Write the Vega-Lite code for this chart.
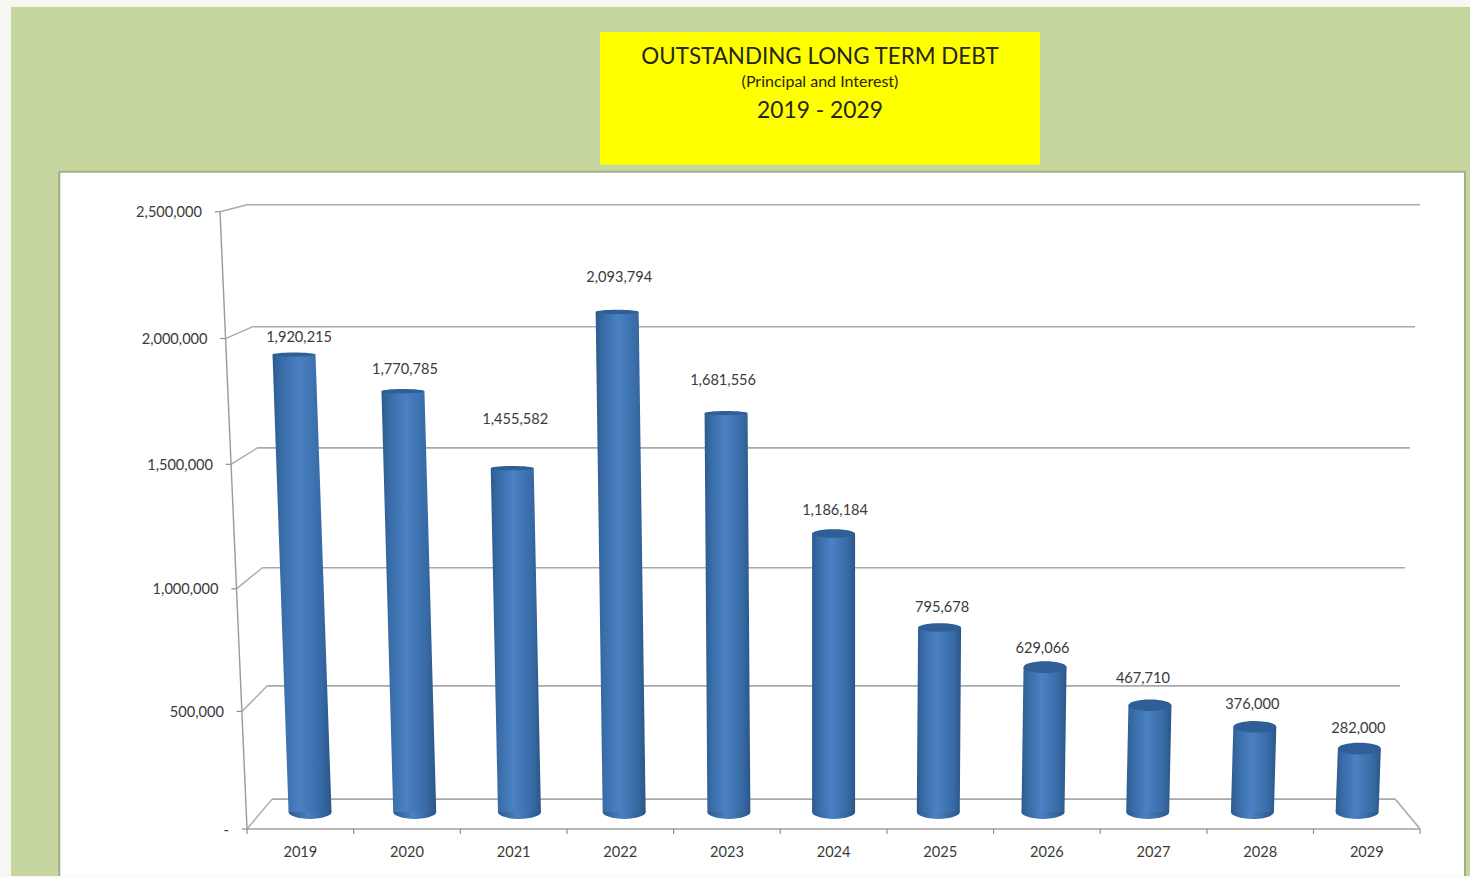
{
  "$schema": "https://vega.github.io/schema/vega-lite/v6.json",
  "width": 1470,
  "height": 877,
  "padding": 0,
  "autosize": {"type": "fit", "contains": "padding"},
  "background": "#f7f7f3",
  "config": {
    "view": {"stroke": null},
    "axis": {"disable": true},
    "text": {"font": "Lato", "color": "#3a3a3a"}
  },
  "datasets": {
    "debt": [
      {"year": 2019, "debt": 1920215},
      {"year": 2020, "debt": 1770785},
      {"year": 2021, "debt": 1455582},
      {"year": 2022, "debt": 2093794},
      {"year": 2023, "debt": 1681556},
      {"year": 2024, "debt": 1186184},
      {"year": 2025, "debt": 795678},
      {"year": 2026, "debt": 629066},
      {"year": 2027, "debt": 467710},
      {"year": 2028, "debt": 376000},
      {"year": 2029, "debt": 282000}
    ],
    "scaleTicks": [
      {"tick": 0},
      {"tick": 500000},
      {"tick": 1000000},
      {"tick": 1500000},
      {"tick": 2000000},
      {"tick": 2500000}
    ],
    "slots": [
      {"slot": 2018.5}, {"slot": 2019.5}, {"slot": 2020.5}, {"slot": 2021.5},
      {"slot": 2022.5}, {"slot": 2023.5}, {"slot": 2024.5}, {"slot": 2025.5},
      {"slot": 2026.5}, {"slot": 2027.5}, {"slot": 2028.5}, {"slot": 2029.5}
    ],
    "sheet": [{"part": "sheet"}]
  },
  "layer": [
    {
      "description": "Green worksheet area",
      "data": {"name": "sheet"},
      "mark": {"type": "rect", "fill": "#c5d69e"},
      "encoding": {
        "x": {"datum": 2016.145, "type": "quantitative", "scale": {"domain": [2016.039, 2030.078], "nice": false, "zero": false}},
        "x2": {"datum": 2030.078},
        "y": {"datum": 1.34783, "type": "quantitative", "scale": {"domain": [-0.10702, 1.35953], "nice": false, "zero": false}},
        "y2": {"datum": -0.10702}
      }
    },
    {
      "description": "White chart frame, running off the bottom of the view",
      "data": {"name": "sheet"},
      "mark": {"type": "rect", "fill": "#ffffff"},
      "encoding": {
        "x": {"datum": 2016.605},
        "x2": {"datum": 2030.03},
        "y": {"datum": 1.0719},
        "y2": {"datum": -0.10702}
      }
    },
    {
      "description": "Frame border, top",
      "data": {"name": "sheet"},
      "mark": {"type": "rule", "stroke": "#9fb085", "strokeWidth": 2},
      "encoding": {
        "x": {"datum": 2016.605},
        "x2": {"datum": 2030.03},
        "y": {"datum": 1.0719}
      }
    },
    {
      "description": "Frame border, left",
      "data": {"name": "sheet"},
      "mark": {"type": "rule", "stroke": "#9fb085", "strokeWidth": 2},
      "encoding": {
        "x": {"datum": 2016.605},
        "y": {"datum": 1.0719},
        "y2": {"datum": -0.10702}
      }
    },
    {
      "description": "Frame border, right",
      "data": {"name": "sheet"},
      "mark": {"type": "rule", "stroke": "#9fb085", "strokeWidth": 2},
      "encoding": {
        "x": {"datum": 2030.03},
        "y": {"datum": 1.0719},
        "y2": {"datum": -0.10702}
      }
    },
    {
      "description": "Yellow title block",
      "data": {"name": "sheet"},
      "mark": {"type": "rect", "fill": "#ffff00"},
      "encoding": {
        "x": {"datum": 2021.77},
        "x2": {"datum": 2025.97},
        "y": {"datum": 1.30602},
        "y2": {"datum": 1.08361}
      }
    },
    {
      "data": {"name": "sheet"},
      "mark": {"type": "text", "fontSize": 22.4, "align": "center", "baseline": "middle", "dy": 1, "color": "#26261a"},
      "encoding": {
        "x": {"datum": 2023.87},
        "y": {"datum": 1.2659},
        "text": {"value": "OUTSTANDING LONG TERM DEBT"}
      }
    },
    {
      "data": {"name": "sheet"},
      "mark": {"type": "text", "fontSize": 16, "align": "center", "baseline": "middle", "color": "#26261a"},
      "encoding": {
        "x": {"datum": 2023.87},
        "y": {"datum": 1.2224},
        "text": {"value": "(Principal and Interest)"}
      }
    },
    {
      "data": {"name": "sheet"},
      "mark": {"type": "text", "fontSize": 22.8, "align": "center", "baseline": "middle", "dy": 1, "color": "#26261a"},
      "encoding": {
        "x": {"datum": 2023.87},
        "y": {"datum": 1.1756},
        "text": {"value": "2019 - 2029"}
      }
    },
    {
      "description": "Gridlines along the back wall",
      "data": {"name": "scaleTicks"},
      "transform": [
        {"calculate": "pow(datum.tick / 2500000, 1.03)", "as": "t"},
        {"calculate": "0.02174 + 0.995 * datum.t", "as": "wallH"},
        {"calculate": "2024 - 5.363 * (1 + 0.0445 * datum.t)", "as": "wallL"},
        {"calculate": "2024 + 5.363 * (1 + 0.0445 * datum.t)", "as": "wallR"}
      ],
      "mark": {"type": "rule", "stroke": "#a9a9a9", "strokeWidth": 1.6},
      "encoding": {
        "x": {"field": "wallL", "type": "quantitative"},
        "x2": {"field": "wallR"},
        "y": {"field": "wallH", "type": "quantitative"}
      }
    },
    {
      "description": "Side wall connectors from the value axis to the back wall",
      "data": {"name": "scaleTicks"},
      "transform": [
        {"calculate": "pow(datum.tick / 2500000, 1.03)", "as": "t"},
        {"calculate": "0.02174 + 0.995 * datum.t", "as": "wallH"},
        {"calculate": "2024 - 5.363 * (1 + 0.0445 * datum.t)", "as": "wallL"},
        {"calculate": "-0.02843 + 1.0334 * datum.t", "as": "frontH"},
        {"calculate": "2024 - 5.602 * (1 + 0.046 * datum.t)", "as": "frontL"}
      ],
      "mark": {"type": "rule", "stroke": "#a9a9a9", "strokeWidth": 1.4},
      "encoding": {
        "x": {"field": "frontL", "type": "quantitative"},
        "x2": {"field": "wallL"},
        "y": {"field": "frontH", "type": "quantitative"},
        "y2": {"field": "wallH"}
      }
    },
    {
      "description": "Value axis tick stubs",
      "data": {"name": "scaleTicks"},
      "transform": [
        {"calculate": "pow(datum.tick / 2500000, 1.03)", "as": "t"},
        {"calculate": "-0.02843 + 1.0334 * datum.t", "as": "frontH"},
        {"calculate": "2024 - 5.602 * (1 + 0.046 * datum.t)", "as": "frontL"},
        {"calculate": "datum.frontL - 0.05", "as": "stub"}
      ],
      "mark": {"type": "rule", "stroke": "#8f8f8f", "strokeWidth": 1.2},
      "encoding": {
        "x": {"field": "stub", "type": "quantitative"},
        "x2": {"field": "frontL"},
        "y": {"field": "frontH", "type": "quantitative"}
      }
    },
    {
      "description": "Slanted value axis line",
      "data": {"name": "scaleTicks"},
      "transform": [
        {"filter": "datum.tick == 2500000"},
        {"calculate": "-0.02843 + 1.0334", "as": "frontH"},
        {"calculate": "2024 - 5.602 * 1.046", "as": "frontL"}
      ],
      "mark": {"type": "rule", "stroke": "#9a9a9a", "strokeWidth": 1.4},
      "encoding": {
        "x": {"field": "frontL", "type": "quantitative"},
        "x2": {"datum": 2018.398},
        "y": {"field": "frontH", "type": "quantitative"},
        "y2": {"datum": -0.02843}
      }
    },
    {
      "description": "Front edge of the floor",
      "data": {"name": "sheet"},
      "mark": {"type": "rule", "stroke": "#a0a0a0", "strokeWidth": 1.6},
      "encoding": {
        "x": {"datum": 2018.398},
        "x2": {"datum": 2029.602},
        "y": {"datum": -0.02843}
      }
    },
    {
      "description": "Right edge of the floor",
      "data": {"name": "sheet"},
      "mark": {"type": "rule", "stroke": "#a9a9a9", "strokeWidth": 1.6},
      "encoding": {
        "x": {"datum": 2029.363},
        "x2": {"datum": 2029.602},
        "y": {"datum": 0.02174},
        "y2": {"datum": -0.02843}
      }
    },
    {
      "description": "Category tick marks",
      "data": {"name": "slots"},
      "transform": [
        {"calculate": "2024 + (datum.slot - 2024) * 1.0185", "as": "frontX"}
      ],
      "mark": {"type": "rule", "stroke": "#8f8f8f", "strokeWidth": 1.2},
      "encoding": {
        "x": {"field": "frontX", "type": "quantitative"},
        "y": {"datum": -0.02843},
        "y2": {"datum": -0.0368}
      }
    },
    {
      "description": "Cylinder bases",
      "data": {"name": "debt"},
      "transform": [
        {"calculate": "datum.year", "as": "baseX"},
        {"calculate": "0", "as": "baseH"}
      ],
      "mark": {
        "type": "point",
        "filled": true,
        "opacity": 1,
        "shape": "M-1,0A1,0.32 0 1,1 1,0A1,0.32 0 1,1 -1,0Z",
        "size": 1849,
        "fill": {
          "gradient": "linear", "x1": 0, "x2": 1, "y1": 0, "y2": 0,
          "stops": [
            {"offset": 0, "color": "#2c5a8e"},
            {"offset": 0.45, "color": "#4a81c3"},
            {"offset": 1, "color": "#2a5687"}
          ]
        }
      },
      "encoding": {
        "x": {"field": "baseX", "type": "quantitative"},
        "y": {"field": "baseH", "type": "quantitative"}
      }
    },
    {
      "description": "Cylinder bodies, narrowing toward the floor in perspective",
      "data": {"name": "debt"},
      "transform": [
        {"calculate": "0", "as": "floor"},
        {"fold": ["floor", "debt"], "as": ["end", "level"]},
        {"calculate": "1.005 * pow(datum.level / 2500000, 1.03)", "as": "h"},
        {"calculate": "2024 + (datum.year - 2024) * (1 + 0.04 * datum.h)", "as": "cx"},
        {"calculate": "datum.cx - 0.2053", "as": "left"},
        {"calculate": "datum.cx + 0.2053", "as": "right"}
      ],
      "mark": {
        "type": "area",
        "orient": "horizontal",
        "opacity": 1,
        "fill": {
          "gradient": "linear", "x1": 0, "x2": 1, "y1": 0, "y2": 0,
          "stops": [
            {"offset": 0, "color": "#2c5a8e"},
            {"offset": 0.14, "color": "#386ba6"},
            {"offset": 0.45, "color": "#4a81c3"},
            {"offset": 0.82, "color": "#386ba6"},
            {"offset": 1, "color": "#2a5687"}
          ]
        }
      },
      "encoding": {
        "y": {"field": "h", "type": "quantitative", "stack": null},
        "x": {"field": "left", "type": "quantitative", "stack": null},
        "x2": {"field": "right"},
        "detail": {"field": "year", "type": "nominal"}
      }
    },
    {
      "description": "Cylinder tops, flatter the higher they sit",
      "data": {"name": "debt"},
      "transform": [
        {"calculate": "1.005 * pow(datum.debt / 2500000, 1.03)", "as": "h"},
        {"calculate": "2024 + (datum.year - 2024) * (1 + 0.04 * datum.h)", "as": "cx"},
        {"calculate": "datum.debt >= 1400000 ? 'flat' : datum.debt >= 700000 ? 'mid' : 'round'", "as": "cap"}
      ],
      "mark": {"type": "point", "filled": true, "opacity": 1, "size": 1849, "fill": "#2f5f96"},
      "encoding": {
        "x": {"field": "cx", "type": "quantitative"},
        "y": {"field": "h", "type": "quantitative"},
        "shape": {
          "field": "cap",
          "type": "nominal",
          "legend": null,
          "scale": {
            "domain": ["flat", "mid", "round"],
            "range": [
              "M-1,0A1,0.1 0 1,1 1,0A1,0.1 0 1,1 -1,0Z",
              "M-1,0A1,0.2 0 1,1 1,0A1,0.2 0 1,1 -1,0Z",
              "M-1,0A1,0.27 0 1,1 1,0A1,0.27 0 1,1 -1,0Z"
            ]
          }
        }
      }
    },
    {
      "description": "Value labels above each cylinder",
      "data": {"name": "debt"},
      "transform": [
        {"calculate": "pow(datum.debt / 2500000, 1.03)", "as": "h"},
        {"calculate": "[20.4, 24.8, 51.5, 37.9, 35.6, 25.5, 22.1, 20.6, 28.6, 24, 21.8][datum.year - 2019]", "as": "lift"},
        {"calculate": "[5, 2, 3, 2, -3, 1.5, 2.5, -2.5, -7, -2.5, -1][datum.year - 2019]", "as": "shift"},
        {"calculate": "datum.h + datum.lift / 598", "as": "labelY"},
        {"calculate": "2024 + (datum.year - 2024) * (1 + 0.04 * datum.h) + datum.shift / 104.7", "as": "labelX"}
      ],
      "mark": {"type": "text", "fontSize": 14.6, "align": "center", "baseline": "middle", "dy": 1.5},
      "encoding": {
        "x": {"field": "labelX", "type": "quantitative"},
        "y": {"field": "labelY", "type": "quantitative"},
        "text": {"field": "debt", "type": "quantitative", "format": ","}
      }
    },
    {
      "description": "Value axis labels",
      "data": {"name": "scaleTicks"},
      "transform": [
        {"calculate": "pow(datum.tick / 2500000, 1.03)", "as": "t"},
        {"calculate": "-0.02843 + 1.0334 * datum.t", "as": "frontH"},
        {"calculate": "2024 - 5.602 * (1 + 0.046 * datum.t) - 0.172", "as": "labelX"},
        {"calculate": "datum.tick == 0 ? '-' : format(datum.tick, ',')", "as": "tickText"}
      ],
      "mark": {"type": "text", "fontSize": 14.6, "align": "right", "baseline": "middle", "dy": 1.5},
      "encoding": {
        "x": {"field": "labelX", "type": "quantitative"},
        "y": {"field": "frontH", "type": "quantitative"},
        "text": {"field": "tickText", "type": "nominal"}
      }
    },
    {
      "description": "Year labels under the floor",
      "data": {"name": "debt"},
      "transform": [
        {"calculate": "2024 + (datum.year - 2024) * 1.0185", "as": "frontX"},
        {"calculate": "'' + datum.year", "as": "yearText"}
      ],
      "mark": {"type": "text", "fontSize": 14.6, "align": "center", "baseline": "middle", "dy": 1.5},
      "encoding": {
        "x": {"field": "frontX", "type": "quantitative"},
        "y": {"datum": -0.0652},
        "text": {"field": "yearText", "type": "nominal"}
      }
    }
  ]
}
